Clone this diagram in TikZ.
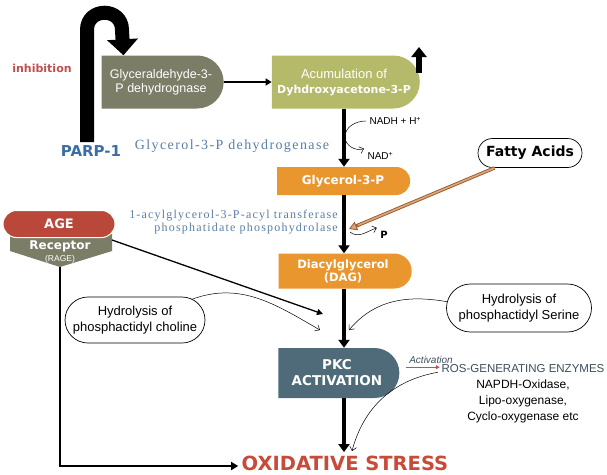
\documentclass[tikz,border=0pt]{standalone}
\usepackage{fontspec}
\setmainfont{Liberation Sans}
\newfontfamily\heavyfont{DejaVu Sans}
\newfontfamily\enzfont[LetterSpace=10]{Liberation Serif}
\usetikzlibrary{arrows.meta,shapes.misc,calc}

\definecolor{grayolive}{HTML}{7B7D66}
\definecolor{yellowolive}{HTML}{B5B96A}
\definecolor{pathorange}{HTML}{E9962F}
\definecolor{pkcslate}{HTML}{4F6B7A}
\definecolor{agered}{HTML}{B9483A}
\definecolor{parpblue}{HTML}{3A6EA5}
\definecolor{inhred}{HTML}{C0504D}
\definecolor{oxsred}{HTML}{C84B3A}
\definecolor{enzblue}{HTML}{5B7FA6}
\definecolor{rosgray}{HTML}{3E4E5C}
\definecolor{fattybrown}{HTML}{9A5A2E}
\definecolor{fattytan}{HTML}{D9A77A}

\begin{document}
\begin{tikzpicture}[
  x=1pt,
  y=-1pt,
  halfbox/.style={rounded rectangle, rounded rectangle left arc=none,
    inner sep=0pt, align=center, text=white},
  bubble/.style={rounded rectangle, draw, fill=white, line width=0.7pt,
    inner sep=0pt, align=center},
  mainarrow/.style={line width=3.5pt, -{Triangle[width=11pt,length=8pt]}},
  thinarrow/.style={line width=0.5pt, -{Straight Barb[length=4pt,width=7pt]}},
  enzyme/.style={text=enzblue, inner sep=0pt}
]

% White background
\fill[white] (0,0) rectangle (607,474);
\useasboundingbox (0,0) rectangle (607,474);

% Pathway boxes
\node[halfbox, fill=grayolive, minimum width=122, minimum height=53,
  font=\fontsize{12.5}{14}\selectfont] (gapdh) at (161,82) {Glyceraldehyde-3-\\P dehydrognase};
\node[halfbox, fill=yellowolive, minimum width=148, minimum height=53,
  font=\fontsize{13}{15}\selectfont] (dhap) at (344,82)
  {Acumulation of\\{\heavyfont\bfseries\fontsize{11}{15}\selectfont Dyhdroxyacetone-3-P}};
\node[halfbox, fill=pathorange, minimum width=133, minimum height=28,
  font=\heavyfont\bfseries\fontsize{12}{14}\selectfont] (g3p) at (343,181) {Glycerol-3-P};
\node[halfbox, fill=pathorange, minimum width=133, minimum height=35,
  font=\heavyfont\bfseries\fontsize{11.5}{13}\selectfont] (dag) at (343,271) {Diacylglycerol\\(DAG)};
\node[halfbox, fill=pkcslate, minimum width=121, minimum height=50,
  font=\heavyfont\bfseries\fontsize{13.5}{16}\selectfont] (pkc) at (337,373) {PKC\\ACTIVATION};

% AGE and its receptor
\fill[grayolive] (10,234) -- (112,234) -- (112,251) -- (60,267) -- (10,251) -- cycle;
\node[rounded rectangle, fill=agered, draw=white, line width=1pt, text=white,
  minimum width=112, minimum height=27, inner sep=0pt,
  font=\heavyfont\bfseries\fontsize{13}{15}\selectfont] (age) at (59,224) {AGE};
\node[text=white, font=\heavyfont\bfseries\fontsize{12}{13}\selectfont] (rage) at (60,246) {Receptor};
\node[text=white, font=\fontsize{8.5}{9}\selectfont] (rageabbr) at (60,259) {(RAGE)};
\coordinate (ragetip) at (60,267);
\coordinate (ragecorner) at (112,240);

% Side sources
\node[bubble, minimum width=104, minimum height=29,
  font=\heavyfont\bfseries\fontsize{14}{16}\selectfont] (fatty) at (530,153) {Fatty Acids};
\node[bubble, minimum width=140, minimum height=46,
  font=\fontsize{13}{16}\selectfont] (choline) at (135,320) {Hydrolysis of\\phosphactidyl choline};
\node[bubble, minimum width=145, minimum height=48,
  font=\fontsize{13}{16}\selectfont] (serine) at (519,308) {Hydrolysis of\\phosphactidyl Serine};

% Labels
\node[text=inhred, font=\heavyfont\bfseries\fontsize{11}{13}\selectfont] (inhib) at (42,68) {inhibition};
\node[text=parpblue, font=\heavyfont\bfseries\fontsize{15}{17}\selectfont] (parp) at (91,151) {PARP-1};
\node[enzyme, font=\enzfont\fontsize{14}{15}\selectfont] (g3pdh) at (232,146) {Glycerol-3-P dehydrogenase};
\node[enzyme, font=\enzfont\fontsize{12}{13}\selectfont, align=right, anchor=east] (acyl) at (338,222)
  {1-acylglycerol-3-P-acyl transferase\\phosphatidate phospohydrolase};
\node[anchor=west, font=\fontsize{10}{11}\selectfont] (nadh) at (366,121) {NADH + H\textsuperscript{+}};
\node[anchor=west, font=\fontsize{10}{11}\selectfont] (nad) at (364,156) {NAD\textsuperscript{+}};
\node[font=\heavyfont\bfseries\fontsize{10}{12}\selectfont] (pout) at (384,235) {P};
\node[text=rosgray, font=\itshape\fontsize{10}{11}\selectfont] (act) at (431,360) {Activation};
\node[align=center, font=\fontsize{12}{16}\selectfont] (ros) at (523,394)
  {\textcolor{rosgray}{\fontsize{11.5}{16}\selectfont ROS-GENERATING ENZYMES}\\NAPDH-Oxidase,\\Lipo-oxygenase,\\Cyclo-oxygenase etc};
\node[text=oxsred, font=\heavyfont\bfseries\fontsize{19.5}{22}\selectfont] (oxs) at (345,463) {OXIDATIVE STRESS};

% PARP-1 inhibition arrow
\draw[line width=14pt, -{Triangle[width=30pt,length=16pt]}]
  ([xshift=-4pt]parp.north) -- (87,30) .. controls (87,7) and (122,7) .. (122,30)
  -- ([xshift=22pt]gapdh.north west);

% Main spine
\coordinate (spine) at (344,0);
\draw[line width=1.8pt, -{Triangle[width=7pt,length=6pt]}] (gapdh) -- (dhap);
\draw[mainarrow] (dhap.south -| spine) -- (g3p.north -| spine);
\draw[mainarrow] (g3p.south -| spine) -- (dag.north -| spine);
\draw[mainarrow] (dag.south -| spine) -- (pkc.north -| spine);
\draw[mainarrow] (pkc.south -| spine) -- (oxs.north -| spine);

% Increase mark
\coordinate (upbase) at (419,73);
\coordinate (uptip) at (419,47);
\draw[line width=6pt, -{Triangle[width=15pt,length=10pt]}] (upbase) -- (uptip);

% Side reactions
\draw[thinarrow] (nadh.west) to[out=180,in=90] (345,137) to[out=-90,in=200] (nad.north west);
\coordinate (pfrom) at (350,232);
\draw[thinarrow] (pfrom) to[out=-40,in=200] (pout.north west);
\coordinate (fa) at (349,229);
\draw[line width=3.4pt, draw=fattybrown, shorten >=6pt] (fatty) -- (fa);
\draw[line width=1.6pt, draw=fattytan, shorten >=6pt] (fatty) -- (fa);
\draw[draw=fattybrown, line width=0.8pt,
  -{Triangle[width=9pt,length=8pt,fill=fattytan]}] ($(fa)!10pt!(fatty)$) -- (fa);

% AGE connectors
\coordinate (agetip) at (323,314);
\draw[line width=1.3pt, -{Triangle[width=6pt,length=6pt]}] (ragecorner) -- (agetip);
\draw[line width=2.2pt, -{Triangle[width=8pt,length=7pt]}] (ragetip) |- ([yshift=-3pt]oxs.west);

% Hydrolysis inputs
\coordinate (cholinetip) at (320,330);
\coordinate (serinetip) at (349,330);
\draw[thinarrow] (choline.20) to[out=20,in=150] (cholinetip);
\draw[thinarrow] (serine.175) to[out=170,in=50] (serinetip);

% Activation
\draw[draw=inhred, line width=1.2pt, -{Triangle[width=4pt,length=4pt]}] (act.south west) -- ++(34,0);
\draw[thinarrow] ([yshift=-11pt]ros.north west) to[out=190,in=75] (352,451);

\end{tikzpicture}
\end{document}
